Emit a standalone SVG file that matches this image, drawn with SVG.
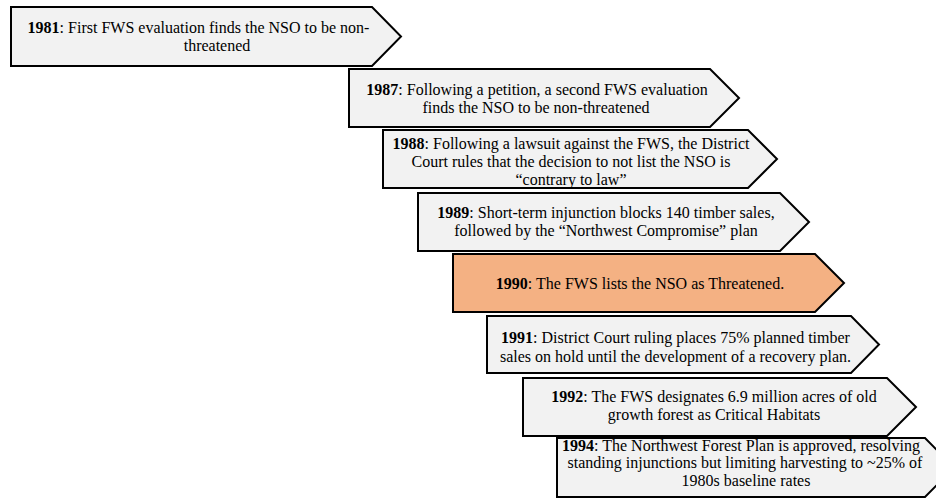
<svg xmlns="http://www.w3.org/2000/svg" width="936" height="498" viewBox="0 0 936 498">
<style>
.box{fill:#f2f2f2;stroke:#000;stroke-width:2;stroke-linejoin:miter}
.hl{fill:#f4b183}
.t text{font-size:16px;fill:#000;text-anchor:middle}
.y{font-weight:bold}
</style>
<rect width="936" height="498" fill="#fff"/>
<g class="t" font-family="'Liberation Serif', 'DejaVu Serif', serif">
<g id="n1981">
<path class="box" d="M11,7 H372 L401,36.5 L372,66 H11 Z"/>
<text x="198.5" y="32.5"><tspan class="y">1981</tspan>: First FWS evaluation finds the NSO to be non-</text>
<text x="217" y="51">threatened</text>
</g>
<g id="n1987">
<path class="box" d="M349,69 H710 L739,98 L710,127 H349 Z"/>
<text x="537" y="94.5"><tspan class="y">1987</tspan>: Following a petition, a second FWS evaluation</text>
<text x="536" y="113">finds the NSO to be non-threatened</text>
</g>
<g id="n1988">
<path class="box" d="M383,130 H748 L777,159 L748,188 H383 Z"/>
<text x="571" y="149"><tspan class="y">1988</tspan>: Following a lawsuit against the FWS, the District</text>
<text x="571" y="167.3">Court rules that the decision to not list the NSO is</text>
<text x="571" y="185.3">“contrary to law”</text>
</g>
<g id="n1989">
<path class="box" d="M418,193 H780 L809,222 L780,251 H418 Z"/>
<text x="606" y="217.5"><tspan class="y">1989</tspan>: Short-term injunction blocks 140 timber sales,</text>
<text x="606" y="236">followed by the “Northwest Compromise” plan</text>
</g>
<g id="n1990">
<path class="box hl" d="M453,254 H815 L844,283 L815,312 H453 Z"/>
<text x="640" y="289"><tspan class="y">1990</tspan>: The FWS lists the NSO as Threatened.</text>
</g>
<g id="n1991">
<path class="box" d="M487,316 H851 L879,344.5 L851,373 H487 Z"/>
<text x="675.5" y="343"><tspan class="y">1991</tspan>: District Court ruling places 75% planned timber</text>
<text x="675.5" y="361.5">sales on hold until the development of a recovery plan.</text>
</g>
<g id="n1992">
<path class="box" d="M523,378 H887 L916,407 L887,436 H523 Z"/>
<text x="714" y="401.5"><tspan class="y">1992</tspan>: The FWS designates 6.9 million acres of old</text>
<text x="714" y="419.5">growth forest as Critical Habitats</text>
</g>
<g id="n1994">
<path class="box" d="M557,438 H925 L954,467.5 L925,497 H557 Z"/>
<text x="741" y="450.5"><tspan class="y">1994</tspan>: The Northwest Forest Plan is approved, resolving</text>
<text x="745" y="468"><tspan>standing injunctions but limiting harvesting to ~25% of</tspan></text>
<text x="746" y="485.5">1980s baseline rates</text>
</g>
</g>
<g id="connectors"></g>
</svg>
